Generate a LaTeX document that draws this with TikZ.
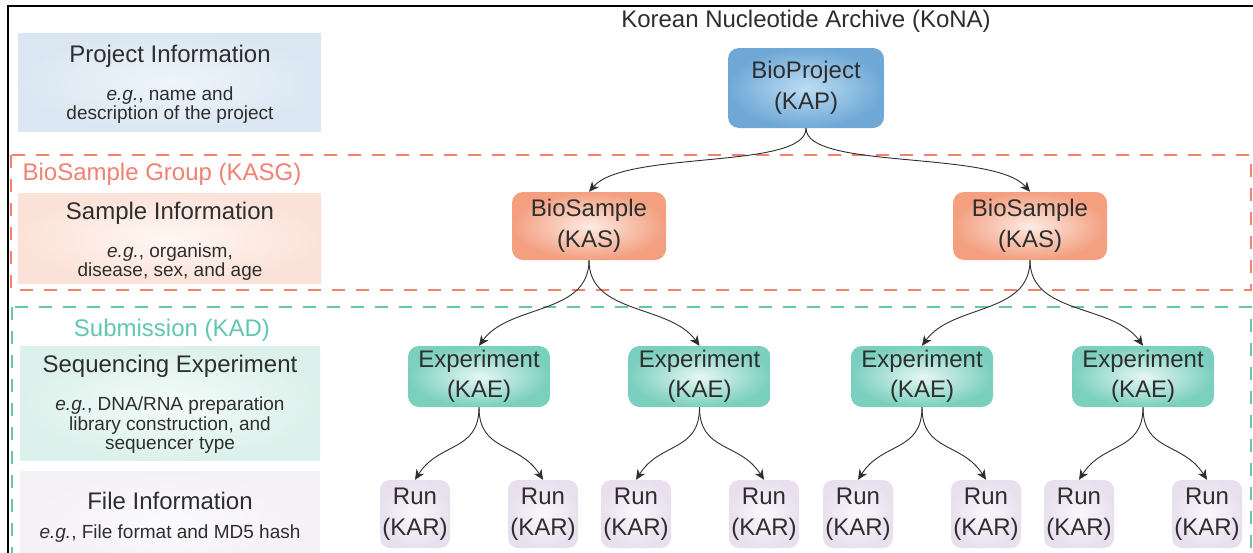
\documentclass[tikz,border=0pt]{standalone}
\usepackage{fontspec}
\setmainfont{Liberation Sans}
\usetikzlibrary{arrows.meta}
\definecolor{txt}{HTML}{2E2E2E}
\definecolor{grpred}{HTML}{F08272}
\definecolor{grpgreen}{HTML}{62C6B0}
\definecolor{pinfoO}{HTML}{DAE7F2}
\definecolor{pinfoI}{HTML}{EEF5FB}
\definecolor{kapO}{HTML}{6FA8D6}
\definecolor{kapI}{HTML}{BCDDF4}
\definecolor{sinfoO}{HTML}{FBE2D8}
\definecolor{sinfoI}{HTML}{FFF7F3}
\definecolor{kasO}{HTML}{F39F80}
\definecolor{kasI}{HTML}{FDEBE3}
\definecolor{einfoO}{HTML}{DCF1EB}
\definecolor{einfoI}{HTML}{F3FBF9}
\definecolor{kaeO}{HTML}{7ACFBE}
\definecolor{kaeI}{HTML}{E6F7F3}
\definecolor{finfoO}{HTML}{F4F1F7}
\definecolor{finfoI}{HTML}{FBFAFC}
\definecolor{karO}{HTML}{E8E0EE}
\definecolor{karI}{HTML}{FAF8FC}
\tikzset{
  infobox/.style={rectangle, draw=none, inner sep=0pt},
  title/.style={text=txt, font=\fontsize{24}{28}\selectfont, inner sep=0pt},
  eg/.style={text=txt, font=\fontsize{19}{19.5}\selectfont, align=center, inner sep=0pt},
  grplabel/.style={font=\fontsize{24}{28}\selectfont, inner sep=0pt},
  kbox/.style={rectangle, rounded corners=11pt, draw=none, text=txt, align=center,
     font=\fontsize{24}{30.5}\selectfont, inner sep=0pt},
  conn/.style={draw=txt, line width=0.9pt, -{Stealth[length=10pt,width=9pt,inset=3pt]}},
  grp/.style={dashed, dash pattern=on 13pt off 11pt, line width=2.7pt}
}
\begin{document}
\begin{tikzpicture}[x=1pt,y=-1pt]
\useasboundingbox (0,0) rectangle (1253,552);
\clip (0,0) rectangle (1253,552);
\fill[white] (0,0) rectangle (1253,552);
% frame
\draw[line width=2pt, black] (8,570) -- (8,6) -- (1270,6);
% group frames
\draw[grp, draw=grpred] (11,155) rectangle (1251,290);
\draw[grp, draw=grpgreen] (12,307) rectangle (1251,600);
% left info boxes
\node[infobox, inner color=pinfoI, outer color=pinfoO, minimum width=303pt, minimum height=98pt] (pinfo) at (169.5,82) {};
\node[infobox, inner color=sinfoI, outer color=sinfoO, minimum width=303pt, minimum height=90pt] (sinfo) at (169.5,238) {};
\node[infobox, inner color=einfoI, outer color=einfoO, minimum width=300pt, minimum height=114pt] (einfo) at (170,403) {};
\node[infobox, inner color=finfoI, outer color=finfoO, minimum width=300pt, minimum height=100pt] (finfo) at (170,521) {};
\node[title] (pt) at (170,56) {Project Information};
\node[eg] (pe) at (170,105) {\textit{e.g.}, name and\\description of the project};
\node[title] (st) at (170,213) {Sample Information};
\node[eg] (se) at (170,262) {\textit{e.g.}, organism,\\disease, sex, and age};
\node[title] (et) at (170,366) {Sequencing Experiment};
\node[eg] (ee) at (170,425.5) {\textit{e.g.}, DNA/RNA preparation\\library construction, and\\sequencer type};
\node[title] (ft) at (170,501) {File Information};
\node[eg] (fe) at (170,534) {\textit{e.g.}, File format and MD5 hash};
% group labels
\node[grplabel, text=grpred] (gl1) at (162,174) {BioSample Group (KASG)};
\node[grplabel, text=grpgreen] (gl2) at (172,330) {Submission (KAD)};
% header
\node[title] (hdr) at (806,21) {Korean Nucleotide Archive (KoNA)};
% tree nodes
\node[kbox, inner color=kapI, outer color=kapO, minimum width=156pt, minimum height=80pt] (kap) at (806,88) {BioProject\\(KAP)};
\node[kbox, inner color=kasI, outer color=kasO, minimum width=154pt, minimum height=68pt] (kas1) at (589,226) {BioSample\\(KAS)};
\node[kbox, inner color=kasI, outer color=kasO, minimum width=154pt, minimum height=68pt] (kas2) at (1030,226) {BioSample\\(KAS)};
\foreach \n/\x in {1/479,2/699.5,3/922,4/1143}{
  \node[kbox, inner color=kaeI, outer color=kaeO, minimum width=142pt, minimum height=61pt] (kae\n) at (\x,376.5) {Experiment\\(KAE)};
}
\foreach \n/\x in {1/415,2/543,3/636,4/764,5/858,6/986,7/1079,8/1207}{
  \node[kbox, rounded corners=10pt, inner color=karI, outer color=karO, minimum width=70pt, minimum height=68pt] (kar\n) at (\x,514) {Run\\(KAR)};
}
% connectors
\draw[conn] (kap.south) .. controls +(0,42) and +(36,-42) .. (kas1.north);
\draw[conn] (kap.south) .. controls +(0,42) and +(-36,-42) .. (kas2.north);
\draw[conn] (kas1.south) .. controls +(0,55) and +(30,-42) .. (kae1.north);
\draw[conn] (kas1.south) .. controls +(0,55) and +(-30,-42) .. (kae2.north);
\draw[conn] (kas2.south) .. controls +(0,55) and +(30,-42) .. (kae3.north);
\draw[conn] (kas2.south) .. controls +(0,55) and +(-30,-42) .. (kae4.north);
\foreach \p/\a/\b in {1/1/2,2/3/4,3/5/6,4/7/8}{
  \draw[conn] (kae\p.south) .. controls +(0,45) and +(24,-38) .. (kar\a.north);
  \draw[conn] (kae\p.south) .. controls +(0,45) and +(-24,-38) .. (kar\b.north);
}
\end{tikzpicture}
\end{document}
